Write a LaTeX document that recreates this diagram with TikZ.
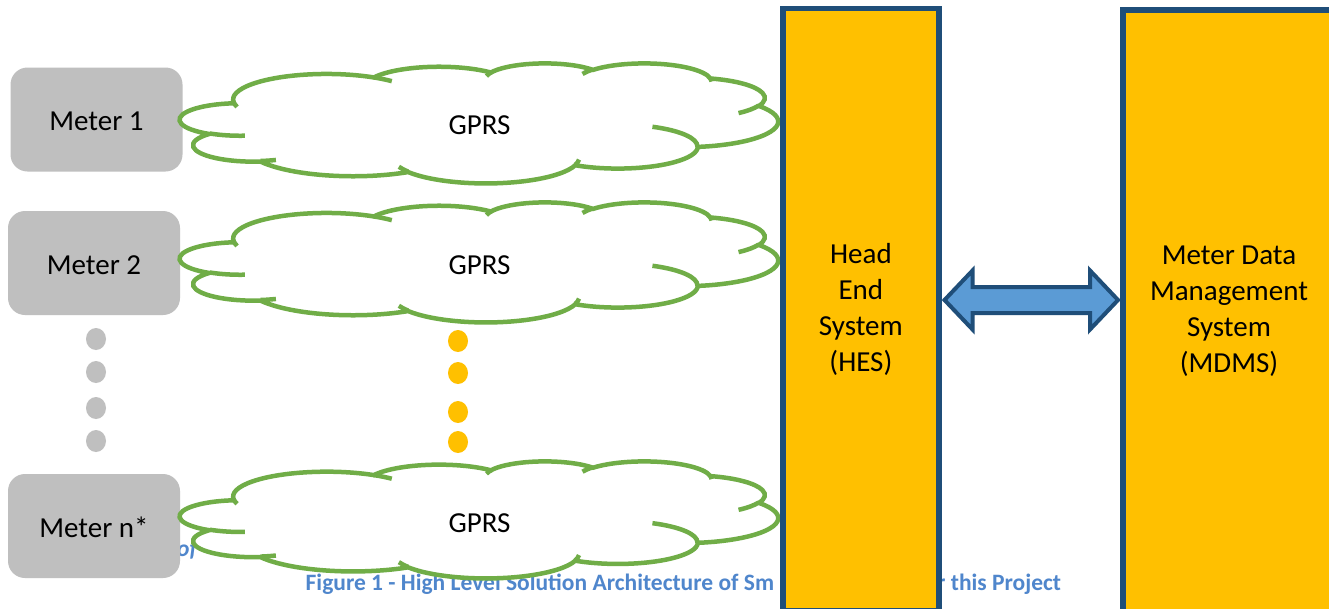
\documentclass[tikz,border=0pt]{standalone}
\usepackage{fontspec}
\setmainfont{Carlito}
\usetikzlibrary{calc}
\definecolor{cgreen}{HTML}{70AD47}
\definecolor{cyel}{HTML}{FFC000}
\definecolor{cnavy}{HTML}{1F4E79}
\definecolor{carrow}{HTML}{5B9BD5}
\definecolor{cgray}{HTML}{BFBFBF}
\definecolor{ccap}{HTML}{4F86CC}
% elliptic arc in the OOXML arcTo convention (true angles)
\newcommand\ooarc[4]{%
  \pgfmathsetmacro\ooA{atan2((#1)*sin(#3),(#2)*cos(#3))}%
  \pgfmathsetmacro\ooB{atan2((#1)*sin((#3)+(#4)),(#2)*cos((#3)+(#4)))}%
  \pgfmathsetmacro\ooB{\ooB+360*((#4)>0)*(\ooB<\ooA)-360*((#4)<0)*(\ooB>\ooA)}%
  \pgfpatharcaxes{\ooA}{\ooB}{\pgfpointxy{#1}{0}}{\pgfpointxy{0}{#2}}%
}
\newcommand\cloudoutline{%
  \pgfpathmoveto{\pgfpointxy{9.028}{33.264}}%
  \ooarc{15.632}{21.273}{-190.4875}{123.7805}%
  \ooarc{12.345}{16.822}{-144.1024}{89.9452}%
  \ooarc{10.104}{13.762}{-145.8079}{99.7230}%
  \ooarc{11.243}{15.266}{-130.9861}{117.2417}%
  \ooarc{12.345}{16.836}{-78.7089}{109.0269}%
  \ooarc{15.683}{21.343}{-46.2673}{130.2690}%
  \ooarc{13.391}{18.211}{0.6250}{114.0333}%
  \ooarc{15.630}{21.331}{22.4516}{115.1726}%
  \ooarc{17.870}{24.405}{66.2426}{75.7110}%
  \ooarc{10.093}{13.699}{-274.9421}{146.7356}%
  \ooarc{10.058}{13.762}{-246.8285}{152.5189}%
  \pgfpathclose}
\newcommand\cloudtails{%
  \pgfpathmoveto{\pgfpointxy{10.863}{60.595}}\ooarc{10.058}{13.762}{86.7420}{26.4295}%
  \pgfpathmoveto{\pgfpointxy{16.037}{80.785}}\ooarc{10.093}{13.699}{73.6105}{11.4475}%
  \pgfpathmoveto{\pgfpointxy{38.144}{90.486}}\ooarc{15.630}{21.331}{137.6242}{14.0811}%
  \pgfpathmoveto{\pgfpointxy{66.729}{80.442}}\ooarc{15.630}{21.331}{6.4533}{15.9984}%
  \pgfpathmoveto{\pgfpointxy{79.002}{53.134}}\ooarc{13.391}{18.211}{-70.2924}{70.9174}%
  \pgfpathmoveto{\pgfpointxy{96.755}{35.542}}\ooarc{12.345}{16.836}{30.3180}{27.7515}%
  \pgfpathmoveto{\pgfpointxy{88.713}{12.560}}\ooarc{11.243}{15.266}{-13.7443}{14.8589}%
  \pgfpathmoveto{\pgfpointxy{67.310}{9.148}}\ooarc{11.243}{15.266}{-149.1815}{18.1954}%
  \pgfpathmoveto{\pgfpointxy{51.252}{10.926}}\ooarc{10.104}{13.762}{-163.4943}{17.6864}%
  \pgfpathmoveto{\pgfpointxy{32.407}{12.019}}\ooarc{15.632}{21.273}{-66.7070}{12.3194}%
  \pgfpathmoveto{\pgfpointxy{9.553}{36.549}}\ooarc{15.632}{21.273}{157.6544}{11.8582}%
}
\newcommand\drawcloud[4]{%
  \pgfmathsetmacro\cwx{(#3)/100}\pgfmathsetmacro\cwy{-(#4)/100}%
  \begin{scope}[shift={(#1,#2)}, x=\cwx pt, y=\cwy pt]
    \path[cloudfill] \pgfextra{\cloudoutline};
    \path[cloudline] \pgfextra{\cloudtails};
  \end{scope}}
\begin{document}
\begin{tikzpicture}[x=1pt, y=-1pt,
  lbl/.style={font=\fontsize{29pt}{36pt}\selectfont, text=black},
  meterbox/.style={lbl, fill=cgray, rounded corners=17pt, minimum width=172pt, minimum height=104pt, inner sep=0pt, text height=22pt, text depth=0pt},
  sysbox/.style={lbl, fill=cyel, draw=cnavy, line width=5.5pt, align=center, inner sep=0pt},
  cloudfill/.style={fill=white, draw=cgreen, line width=4.5pt},
  cloudline/.style={draw=cgreen, line width=4.5pt},
  dblarrow/.style={fill=carrow, draw=cnavy, line width=4pt, line join=miter},
  capt/.style={font=\fontsize{23.5pt}{28pt}\selectfont\bfseries, text=ccap, inner sep=0pt, anchor=base west},
  dotg/.style={fill=cgray},
  doty/.style={fill=cyel}]
\useasboundingbox (0,0) rectangle (1329,608);
\fill[white] (0,0) rectangle (1329,608);
% caption (partly hidden)
\node[capt] (cap1) at (305.5,590.7) {Figure 1 - High Level Solution Architecture of Sm};
\node[capt] (cap2) at (937,590.7) {r this Project};
\node[capt, font=\fontsize{23.5pt}{28pt}\selectfont\bfseries\itshape] (capof) at (177,556) {of};
% meters
\node[meterbox] (m1) at (96.5,119.5) {Meter 1};
\node[meterbox] (m2) at (94,263) {Meter 2};
\node[meterbox] (mn) at (94,526) {Meter n*};
\foreach \yy in {339,372,408,441} \fill[dotg] (96,\yy) ellipse [x radius=10, y radius=11];
\foreach \yy in {341,373,412,442} \fill[doty] (458,\yy) ellipse [x radius=10, y radius=11];
% clouds
\drawcloud{180}{63}{598}{120}
\drawcloud{180}{202}{598}{120}
\drawcloud{180}{461}{598}{117}
\node[lbl] (g1) at (479.5,125) {GPRS};
\node[lbl] (g2) at (479.5,265) {GPRS};
\node[lbl] (g3) at (479.5,523) {GPRS};
% systems
\node[sysbox, minimum width=156.25pt, minimum height=602.5pt] (hes) at (860.9,309.75) {Head\\End\\System\\(HES)};
\node[sysbox, minimum width=212.5pt, minimum height=602pt] (mdms) at (1229,311) {Meter Data\\Management\\System\\(MDMS)};
\coordinate (ay) at (0,300);
\draw[dblarrow] ($(hes.east |- ay)+(2.75,0)$) -- ++(28,-29.5) -- ++(0,16.5)
  -- ($(mdms.west |- ay)+(-30,-13)$) -- ++(0,-16.5) -- ++(28,29.5) -- ++(-28,29.5) -- ++(0,-16.5)
  -- ($(hes.east |- ay)+(30.75,13)$) -- ++(0,16.5) -- cycle;
\end{tikzpicture}
\end{document}
